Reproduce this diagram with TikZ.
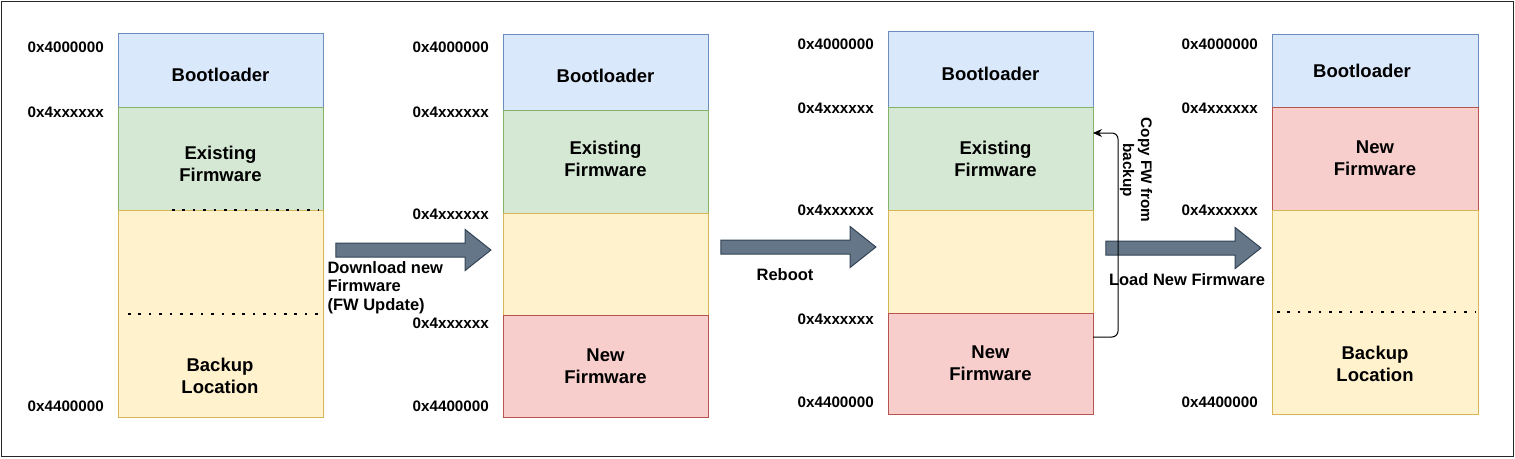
\documentclass[tikz,border=0pt]{standalone}
\usepackage{fontspec}
\setmainfont{Liberation Sans}
\usetikzlibrary{positioning,shapes.arrows,arrows.meta}
\definecolor{bootfill}{HTML}{DAE8FC}
\definecolor{bootline}{HTML}{6C8EBF}
\definecolor{oldfill}{HTML}{D5E8D4}
\definecolor{oldline}{HTML}{82B366}
\definecolor{sparefill}{HTML}{FFF2CC}
\definecolor{spareline}{HTML}{D6B656}
\definecolor{newfill}{HTML}{F8CECC}
\definecolor{newline}{HTML}{B85450}
\definecolor{arrowfill}{HTML}{647687}
\definecolor{arrowline}{HTML}{314354}

\begin{document}
\begin{tikzpicture}[x=1pt, y=-1pt, >={Stealth[length=9pt,width=8pt]}]
    \tikzstyle{every node} = [font=\bfseries\fontsize{18.5}{22}\selectfont]
    \tikzstyle{region} = [align=center, draw, line width=1pt, minimum width=205pt, inner sep=0pt, outer sep=0pt, text depth=0pt]
    \tikzstyle{bootbox} = [region, fill=bootfill, draw=bootline]
    \tikzstyle{oldbox} = [region, fill=oldfill, draw=oldline]
    \tikzstyle{sparebox} = [region, fill=sparefill, draw=spareline]
    \tikzstyle{newbox} = [region, fill=newfill, draw=newline]
    \tikzstyle{addr} = [anchor=east, inner sep=0pt, font=\bfseries\fontsize{15.2}{18}\selectfont]
    \tikzstyle{steptext} = [align=left, font=\bfseries\fontsize{16.5}{18.5}\selectfont]
    \tikzstyle{bigarrow} = [single arrow, draw=arrowline, fill=arrowfill, line width=1pt, inner xsep=0pt, inner ysep=6.5pt,
                            minimum width=40pt, single arrow head extend=13.5pt, single arrow tip angle=77, minimum height=155pt]
    \tikzstyle{dotline} = [line width=2.5pt, dash pattern=on 2.5pt off 7.9pt]

    \useasboundingbox (0,0) rectangle (1515,458);
    \draw [line width=1pt, black!85] (1,1) rectangle (1513,456);

    % before the update
    \node (boot1) [bootbox, anchor=north west, minimum height=74pt, text height=23.5pt] at (118,33) {Bootloader};
    \node (exist1) [oldbox, below=0pt of boot1, minimum height=103pt, text height=45pt] {Existing\\Firmware};
    \node (spare1) [sparebox, below=0pt of exist1, minimum height=207pt] {};
    \draw [dotline] (172,210) -- (318,210);
    \draw [dotline] (128,314) -- (318,314);
    \node (backup1) at (220,376) [align=center] {Backup\\Location};
    \node (a1top) [addr] at (104,47) {0x4000000};
    \node (a1fw) [addr] at (104,112) {0x4xxxxxx};
    \node (a1end) [addr] at (104,406) {0x4400000};

    % new firmware downloaded
    \node (boot2) [bootbox, anchor=north west, minimum height=76pt, text height=21.5pt] at (503,34) {Bootloader};
    \node (exist2) [oldbox, below=0pt of boot2, minimum height=103pt, text height=30.5pt] {Existing\\Firmware};
    \node (free2) [sparebox, below=0pt of exist2, minimum height=102pt] {};
    \node (new2) [newbox, below=0pt of free2, minimum height=102pt] {New\\Firmware};
    \node (a2top) [addr] at (489,47) {0x4000000};
    \node (a2fw) [addr] at (489,112) {0x4xxxxxx};
    \node (a2free) [addr] at (489,214) {0x4xxxxxx};
    \node (a2new) [addr] at (489,323) {0x4xxxxxx};
    \node (a2end) [addr] at (489,406) {0x4400000};

    % after reboot
    \node (boot3) [bootbox, anchor=north west, minimum height=76pt, text height=22.5pt] at (888,31) {Bootloader};
    \node (exist3) [oldbox, below=0pt of boot3, minimum height=103pt] {\hspace*{10pt}Existing\\\hspace*{10pt}Firmware};
    \node (free3) [sparebox, below=0pt of exist3, minimum height=103pt] {};
    \node (new3) [newbox, below=0pt of free3, minimum height=101pt] {New\\Firmware};
    \node (a3top) [addr] at (874,44) {0x4000000};
    \node (a3fw) [addr] at (874,108) {0x4xxxxxx};
    \node (a3free) [addr] at (874,210) {0x4xxxxxx};
    \node (a3new) [addr] at (874,319) {0x4xxxxxx};
    \node (a3end) [addr] at (874,402) {0x4400000};

    % new firmware loaded
    \node (boot4) [bootbox, anchor=north west, minimum width=206pt, minimum height=73pt] at (1272,34) {Bootloader\hspace{26pt}};
    \node (new4) [newbox, below=0pt of boot4, minimum width=206pt, minimum height=103pt] {New\\Firmware};
    \node (spare4) [sparebox, below=0pt of new4, minimum width=206pt, minimum height=204pt] {};
    \draw [dotline] (1277,312) -- (1475,312);
    \node (backup4) at (1375,364) [align=center] {Backup\\Location};
    \node (a4top) [addr] at (1258,44) {0x4000000};
    \node (a4fw) [addr] at (1258,108) {0x4xxxxxx};
    \node (a4free) [addr] at (1258,210) {0x4xxxxxx};
    \node (a4end) [addr] at (1258,402) {0x4400000};

    % steps
    \node (download) [bigarrow] at (409,250) {};
    \node (downloadtxt) [steptext, anchor=north west] at (324,258) {Download new\\Firmware\\(FW Update)};
    \node (reboot) [bigarrow] at (794,247) {};
    \node (reboottxt) [steptext] at (785,275) {Reboot};
    \node (load) [bigarrow] at (1179,248) {};
    \node (loadtxt) [steptext] at (1187,280) {Load New Firmware};

    \coordinate (copyfrom) at (1093,337);
    \coordinate (copyto) at (1093,133);
    \draw [->, line width=1pt, rounded corners=6pt] (copyfrom) -- ++(25,0) |- (copyto);
    \node (copytxt) [rotate=-90, align=center, font=\bfseries\fontsize{15.3}{18}\selectfont] at (1136,170) {Copy FW from\\backup};
\end{tikzpicture}
\end{document}
